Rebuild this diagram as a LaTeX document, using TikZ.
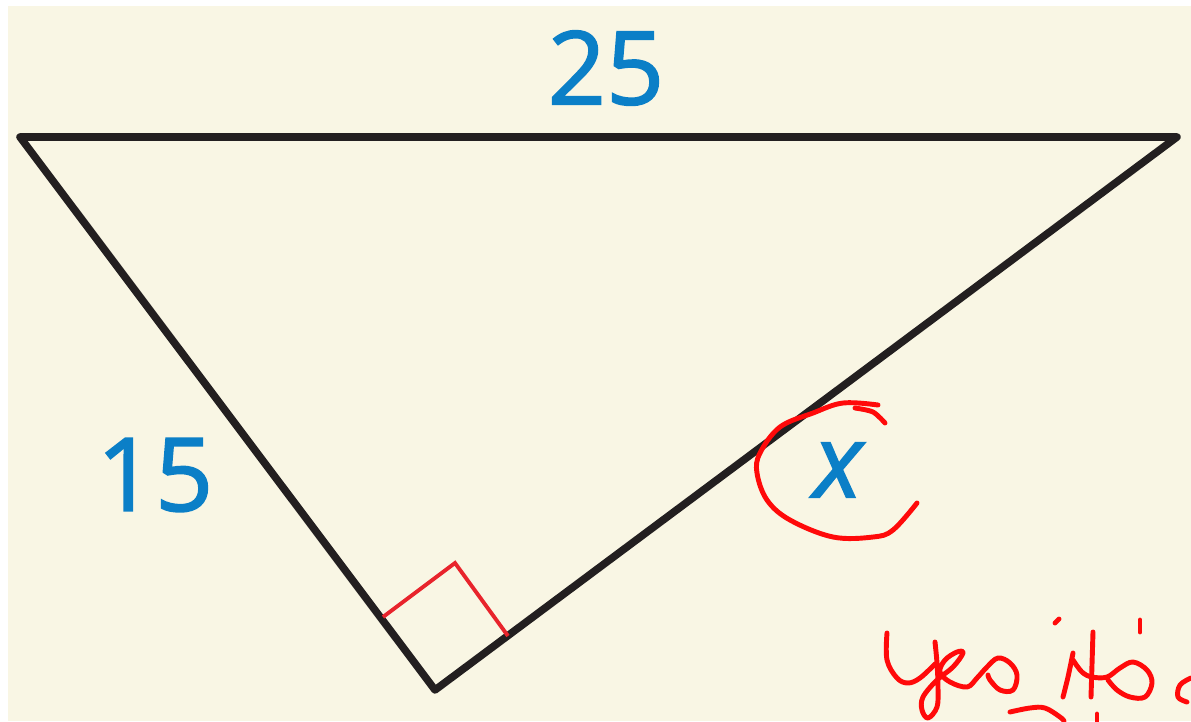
\documentclass[tikz,border=0pt]{standalone}
\usepackage{fontspec}
\setmainfont{Open Sans}
\newfontfamily\lenfont[FakeBold=1.6]{Open Sans}
\usetikzlibrary{calc}
\definecolor{paper}{HTML}{F9F6E4}
\definecolor{lenblue}{HTML}{0B7FC7}
\definecolor{inkred}{HTML}{FF0A0A}
\definecolor{markred}{HTML}{E8242C}
\definecolor{edgeblack}{HTML}{231F20}

\begin{document}
\begin{tikzpicture}[
  x=0.02cm, y=-0.02cm,
  edge/.style={draw=edgeblack, line width=4.3pt, line join=round, line cap=round},
  lenlbl/.style={font=\lenfont\fontsize{58}{60}\selectfont, text=lenblue, inner sep=0pt},
  pen/.style={draw=inkred, line width=2.8pt, line cap=round, line join=round},
]

% Background
\useasboundingbox (0,0) rectangle (1191,721);
\fill[white] (0,0) rectangle (1191,721);
\fill[paper] (8,6) rectangle (1191,721);

% =============================================
% Triangle
% =============================================
\coordinate (left) at (20,137);
\coordinate (right) at (1177,137);
\coordinate (apex) at (435,690);

\draw[edge] (left) -- (right) -- (apex) -- cycle;

% Right angle mark
\coordinate (ra1) at (383,617);
\coordinate (ra2) at (455,563);
\coordinate (ra3) at (508,636);
\draw[markred, line width=2.2pt] (ra1) -- (ra2) -- (ra3);

% =============================================
% Side lengths
% =============================================
\node[lenlbl] (top) at (606,68) {25};
\node[lenlbl] (leg) at (155,475) {15};
\node[lenlbl, font=\lenfont\fontsize{58}{60}\selectfont\itshape] (unk) at (838,470) {x};

% =============================================
% Handwritten notes
% =============================================
% ring round x
\draw[pen] plot[smooth, tension=0.6] coordinates {
  (878,405) (843,403) (813,413) (780,427) (760,453) (757,473) (767,500)
  (790,520) (833,537) (873,537) (893,530) (917,503)};
\draw[pen] plot[smooth] coordinates {(855,408) (873,412) (885,423)};

% Yes
\draw[pen] plot[smooth, tension=0.6] coordinates {
  (887,633) (887,660) (897,678) (908,683) (920,678) (935,664)};
\draw[pen] plot[smooth, tension=0.6] coordinates {
  (935,642) (937,663) (938,687) (937,707) (928,718) (922,710) (923,697)
  (937,680) (953,667) (963,653) (957,652) (945,660) (940,672) (950,682)
  (967,687) (977,678) (987,667) (998,658) (1010,663) (1017,675) (1013,690)
  (1000,690) (990,680) (988,675)};

% it's
\draw[pen] (1055,623) -- (1059,619);
\draw[pen] plot[smooth, tension=0.6] coordinates {(1073,653) (1068,677) (1063,697)};
\draw[pen] plot[smooth, tension=0.6] coordinates {
  (1073,660) (1082,672) (1092,677) (1107,677) (1120,668) (1133,662)
  (1147,670) (1152,683) (1145,697) (1130,697) (1117,690) (1108,680)};
\draw[pen] (1093,632) -- (1091,697);
\draw[pen] (1140,620) -- (1140,632);
\draw[pen] plot[smooth, tension=0.6] coordinates {
  (1191,678) (1180,685) (1178,697) (1187,702)};

% cut-off line below
\draw[pen] plot[smooth, tension=0.6] coordinates {
  (1010,712) (1030,708) (1045,708) (1060,717) (1064,721)};
\draw[pen] (1097,714) -- (1097,721);

\end{tikzpicture}
\end{document}
